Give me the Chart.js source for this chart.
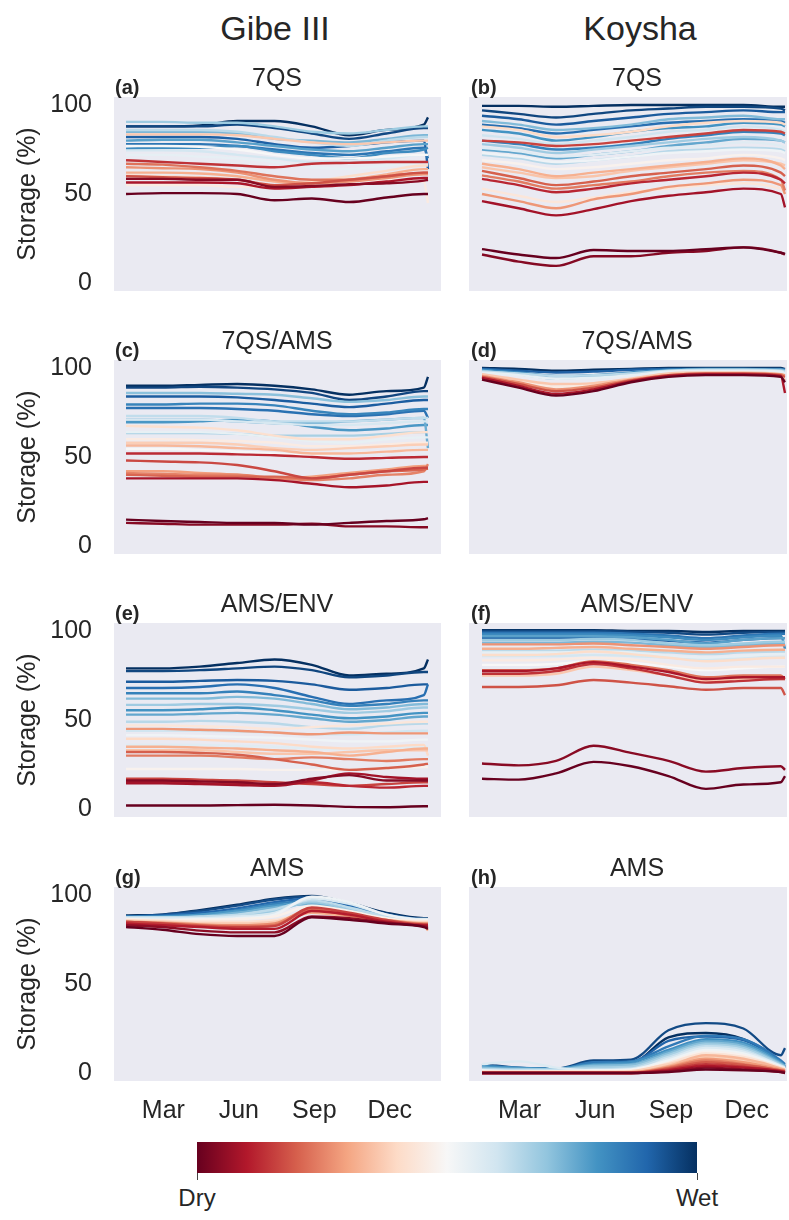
<!DOCTYPE html>
<html>
<head>
<meta charset="utf-8">
<script src="https://cdn.jsdelivr.net/npm/chart.js@4.4.1/dist/chart.umd.min.js"></script>
<style>
  body { margin: 0; background: #fff; font-family: "Liberation Sans", Arial, sans-serif; color: #262626; }
  #fig { position: relative; width: 789px; height: 1220px; overflow: hidden; }
  #fig canvas { position: absolute; }
  .txt { position: absolute; transform: translate(-50%, -50%); white-space: nowrap; line-height: 1; }
  .col { font-size: 34px; }
  .ttl { font-size: 25px; }
  .let { font-size: 20px; font-weight: bold; transform: translate(0, -50%); }
  #cbar { position: absolute; left: 197px; top: 1142px; width: 500px; height: 31px; }
  .tick { position: absolute; top: 1173px; width: 1px; height: 7px; background: #444; }
  .cbl { font-size: 24px; }
</style>
</head>
<body>
<div id="fig"></div>
<script>
// day of year for every stored value (the last two points catch the year-end jump)
const days = [1, 45, 90, 135, 180, 225, 270, 315, 360, 365];
const monthTicks = [46, 137, 228, 319];
const monthLabels = ['Mar', 'Jun', 'Sep', 'Dec'];
const storageTicks = [0, 50, 100];
const columnTitles = ['Gibe III', 'Koysha'];
const panelTitles = ['7QS', '7QS', '7QS/AMS', '7QS/AMS', 'AMS/ENV', 'AMS/ENV', 'AMS', 'AMS'];
const panelLetters = ['(a)', '(b)', '(c)', '(d)', '(e)', '(f)', '(g)', '(h)'];
const colorbarLabels = ['Dry', 'Wet'];

// storage (%) per year, each list goes from the driest year to the wettest
const gibe7qs = [
  [50, 50.5, 50.5, 50, 46.5, 47.5, 45.5, 48, 50, 50],
  [58.5, 58.5, 58, 58, 54, 54.5, 55.5, 56, 57.5, 58],
  [56.5, 56.5, 56.5, 56, 53, 54, 55, 57, 59, 59],
  [69, 68, 67, 66, 65, 67, 67.5, 68, 68, 68],
  [60, 59.5, 59, 58, 55, 56, 58, 60, 62, 62],
  [67, 66.5, 65, 63, 60, 58, 58, 60, 62, 62],
  [65, 64.5, 64, 62, 58, 56, 57, 59, 61, 61],
  [62, 62, 61.5, 60, 57, 56, 58, 61, 64, 64],
  [83.5, 83.5, 83.5, 83, 81, 79, 78, 79, 80, 80],
  [60.5, 60, 59.5, 58, 55, 57, 60, 63, 66, 66],
  [55, 55, 55, 54, 54, 56, 57, 58, 57, 45],
  [77, 77, 76.5, 75, 72, 70, 70, 71, 72, 72],
  [72, 72, 71, 70, 68, 65, 64, 66, 67, 67],
  [74.5, 74.5, 74, 72, 70, 68, 68, 70, 72, 72],
  [86, 86, 86, 85, 82, 79, 77, 80, 82, 82],
  [90.5, 90.5, 90, 90, 88, 85, 84, 86, 88, 88],
  [85, 85, 85, 84, 81, 80, 79, 81, 83, 83],
  [80, 80.5, 80.5, 79, 77, 75, 74, 76, 78, 78],
  [75.5, 76, 76, 77, 74, 72, 70, 73, 75, 76],
  [78, 78, 78, 77, 75, 73, 72, 74, 76, 70],
  [82, 82, 82, 81, 78, 76, 77, 79, 80, 64],
  [88, 88, 88, 89, 87, 84, 81, 84, 87, 87],
  [88, 88, 88.5, 91, 91, 88, 83, 86, 89, 93]
];
const koysha7qs = [
  [19, 16, 14, 18.5, 18, 18, 19, 20, 17, 16.5],
  [16, 12, 9.6, 15, 15, 17, 18, 20, 17, 16],
  [46, 42, 38, 41.5, 46, 49, 51, 53, 50, 42.5],
  [58.5, 55, 51, 53, 56, 58, 60, 62, 58, 56],
  [80, 79, 77, 78, 80, 82, 84, 86, 85, 84],
  [63, 59, 55, 57, 60, 62, 64, 66, 62, 60],
  [60.5, 57, 53, 55, 57, 60, 62, 63, 58, 52],
  [50, 46, 42, 47, 50, 54, 56, 58, 55, 50],
  [67, 64, 60, 62, 64, 66, 68, 70, 66, 64],
  [65, 62, 59, 60, 63, 65, 67, 69, 67, 66],
  [88, 86, 82, 83, 85, 88, 90, 91, 90, 89],
  [53, 49, 45.5, 48, 51, 53, 55, 56, 53, 52],
  [69, 67, 64, 65, 67, 69, 70, 72, 70, 69],
  [73, 71, 68, 69, 71, 73, 74, 75, 74, 73],
  [76, 74, 71, 72, 74, 76, 77, 79, 77, 76],
  [83, 81, 78, 80, 82, 85, 86, 88, 86, 85],
  [72, 70, 67, 69, 71, 74, 75, 76, 75, 74],
  [78, 76, 73, 75, 77, 79, 81, 82, 80, 79],
  [91, 89, 86, 87, 89, 92, 93, 94, 92, 92],
  [75, 73, 70, 72, 74, 77, 79, 81, 80, 79],
  [86, 84, 80, 82, 85, 87, 88, 90, 89, 88],
  [80, 78, 75, 76, 78, 81, 83, 85, 84, 83],
  [89, 87, 84, 86, 88, 90, 91, 92, 91, 90],
  [94, 92, 89, 91, 93, 95, 96, 97, 96, 96],
  [97, 95, 93, 95, 97, 98, 99, 99, 98, 97],
  [99.5, 99.5, 99, 99.5, 100, 100, 100, 100, 99, 99]
];
const gibe7qsAms = [
  [14.8, 14, 13.5, 13, 13, 12, 13, 14, 15, 15.7],
  [13, 12.5, 12, 12, 12, 12.5, 11, 11, 10.5, 10.5],
  [38, 38, 38, 38, 37, 35, 33, 34, 36, 36],
  [52, 52, 52, 51.5, 51, 50, 49, 49.5, 50, 50],
  [48, 47.5, 47, 45.5, 42, 38, 40, 42, 44, 44],
  [40, 39.5, 39, 39, 39, 38, 40, 42, 43, 43.5],
  [41, 40.5, 40, 40, 38, 37, 38, 40, 42, 46],
  [42, 42, 41, 40, 38, 39, 41, 43, 45, 45],
  [56.5, 56.5, 56, 55, 54, 52, 52, 53, 54, 54],
  [58, 58, 58, 57, 55, 54, 55, 56, 57, 57],
  [67.5, 67, 66.5, 65, 62, 60, 60, 62, 64, 64],
  [60, 60, 59.5, 59, 58, 56, 56, 57, 58, 58],
  [54.5, 54.5, 54, 53, 52, 51, 52, 53, 54, 54],
  [64, 64, 64, 63, 61, 59, 58, 60, 61, 61],
  [71, 71, 71, 70, 69, 68, 68, 69, 70, 70],
  [73, 73, 73, 72, 70, 70, 70, 71, 72, 72],
  [63.5, 63.5, 63.5, 63, 62, 62, 62, 63, 64, 64],
  [86, 86, 86, 85.5, 85, 83, 81, 82, 84, 84],
  [71, 71, 71, 70, 69, 69, 70, 71, 72, 55],
  [69.5, 69.5, 70, 71, 70, 67, 65, 66, 68, 68],
  [79.5, 79.5, 80, 80, 79, 76, 74, 75, 77, 77],
  [77.5, 77.5, 77.5, 77, 76, 74, 73, 74, 76, 72],
  [84, 84, 84, 83.5, 82, 80, 78, 80, 82, 82],
  [89, 89, 89.5, 89, 88, 86, 82, 84, 87, 87],
  [90, 90, 90.5, 91, 90, 88, 85, 87, 89, 95]
];
const koysha7qsAms = [
  [93.5, 89, 84.5, 87, 92, 95, 96, 96, 95, 92],
  [94.5, 90, 85.5, 88, 92.5, 95.5, 96.5, 96.5, 95.5, 86],
  [95, 91, 87, 89, 93, 96, 97, 97, 96, 95],
  [95.5, 92, 88, 90, 93.5, 96, 97, 97, 96.5, 96],
  [96.5, 93.5, 91, 91.5, 94, 97, 97.5, 97.5, 96.5, 93],
  [96, 93, 89.5, 91, 94, 96.5, 97, 97, 96.5, 96],
  [97.5, 96, 94, 94.5, 96, 98, 98.5, 98.5, 98, 97],
  [98, 97, 95.5, 96, 97, 98.5, 99, 99, 98.5, 98],
  [98.5, 96.5, 94, 95, 97, 98.5, 99, 99, 99, 98.5],
  [99, 97.5, 95.5, 96, 97.5, 99, 99.5, 99.5, 99, 99],
  [99.5, 98.5, 97.5, 98, 99, 99.5, 99.5, 99.5, 99.5, 99],
  [100, 99.5, 98.5, 99, 99.5, 100, 100, 100, 100, 99.5]
];
const gibeAmsEnv = [
  [2, 2, 2, 2.2, 2.4, 2, 1.2, 1, 1.5, 1.5],
  [16, 16, 15.5, 15, 14, 17, 19, 16, 16, 16],
  [14.5, 14.5, 14, 13.5, 13, 16, 20, 18, 17, 17],
  [15, 15, 14.5, 14, 14, 15, 13, 12, 13, 13],
  [17, 17, 16.5, 16, 15, 14, 13, 14, 15, 15],
  [32, 32, 31.5, 30.5, 28, 25, 22, 23, 25, 25.5],
  [30, 30, 30, 29, 28, 29, 28, 27, 28, 28],
  [45, 45, 44.5, 44, 43, 42, 43, 42.5, 42.5, 42.5],
  [35, 35, 34.5, 34, 33, 32, 30, 32, 34, 34],
  [33, 33, 33, 32, 31, 31, 32, 33, 33, 33],
  [39.5, 39.5, 39, 38, 37, 35, 34, 35, 36, 30],
  [47, 47, 46.5, 46, 45, 46, 47, 48, 49, 49],
  [22.5, 22.5, 22.5, 22.5, 22, 22, 22, 23, 23.5, 23.5],
  [41.5, 41.5, 41, 40.5, 40, 39, 38, 38, 39, 39],
  [36, 36, 36, 35.5, 35, 34, 33.5, 34, 35, 35],
  [44, 44, 44, 43.5, 43, 42, 42, 43, 44, 44],
  [49, 49, 49.5, 49, 48, 46, 45, 47, 48, 48],
  [58.5, 58.5, 59, 59, 58, 56, 54, 55, 57, 57],
  [62, 62, 62, 63, 62, 59, 56, 57, 59, 59],
  [53, 53, 53.5, 54, 53, 51, 49, 50, 52, 52],
  [55.5, 55.5, 56, 57, 55.5, 53, 51, 52, 54, 54],
  [65, 65, 65, 66, 64, 61, 58, 59, 61, 61],
  [68, 68, 68.5, 70, 68, 63, 59, 61, 64, 70],
  [71.5, 71.5, 72, 72.5, 72, 70, 67, 68, 70, 70],
  [77.5, 77.5, 78, 79, 80, 78, 74, 75, 77, 77],
  [79, 79, 80, 82, 84, 81, 75, 76, 79, 84]
];
const koyshaAmsEnv = [
  [17, 16.5, 20, 26.5, 24, 18.5, 11.3, 13.8, 15, 18.5],
  [25.6, 24.5, 27, 35.5, 31.5, 27, 21, 23, 24, 22],
  [77.5, 77.5, 79, 82.5, 80, 77, 73, 74, 74, 74],
  [76, 76, 77.5, 81.5, 79, 75, 71, 72, 73, 73],
  [68.5, 68.5, 69.5, 72.5, 71, 69, 67, 68, 68, 64],
  [78, 78, 79, 83, 81, 78, 74, 75, 75, 73],
  [92.5, 92.5, 92.5, 93, 92, 91, 90, 91, 92, 92],
  [90, 90, 90.5, 91, 90, 89, 88, 89, 89.5, 89.5],
  [75, 75, 76, 80, 78, 75, 72, 73, 73, 73],
  [86.5, 86.5, 87, 88.5, 87, 85, 83, 84, 85, 85],
  [83.5, 83.5, 84, 85, 84, 81, 79, 80, 80, 80],
  [81, 81, 81.5, 83, 82, 80, 78, 79, 80, 80],
  [88, 88, 88, 88.5, 88, 86, 85, 86, 87, 87],
  [86, 86, 86, 86.5, 86, 85, 84, 85, 85.5, 85.5],
  [89, 89, 89, 89.5, 89, 88, 87, 88, 88.5, 88.5],
  [95, 95, 95, 95.5, 95, 93, 92, 93, 94, 94],
  [93.5, 93.5, 93.5, 94, 93.5, 92, 91, 92, 93, 93],
  [97, 97, 97, 97, 96.5, 95, 93, 95, 96, 96],
  [98, 98, 98, 98, 97.5, 96.5, 95, 96.5, 97.5, 90],
  [99, 99, 99, 99, 98.5, 97.5, 96, 97.5, 98.5, 98.5],
  [96, 96, 96, 96, 95.5, 94.5, 93.5, 95, 96, 96],
  [100, 100, 100, 100, 99.5, 99, 98, 99, 99.5, 99.5],
  [100.5, 100.5, 100.5, 100.5, 100, 100, 99.5, 100, 100, 100]
];
const gibeAms = [
  [82, 80.5, 78, 77, 77, 87.5, 86, 84, 82, 81],
  [83, 82, 80, 79, 79, 88, 87, 84.5, 82.5, 82],
  [84, 83, 82, 81, 81, 91, 89, 85, 83, 83],
  [85, 84, 82.5, 82, 82.5, 93, 90, 86, 83.5, 83.5],
  [84.5, 84, 83, 82, 83, 92, 88.5, 85.5, 83, 83],
  [85, 84.5, 83.5, 83, 84, 92.5, 89, 86, 84, 84],
  [84, 83.5, 82.5, 82, 83.5, 90, 88, 85, 83, 80],
  [85.5, 85, 84, 84, 85, 91, 89, 86, 84.5, 84.5],
  [86, 85.5, 85, 85, 86, 90, 88.5, 86, 85, 85],
  [86.5, 86, 86, 86.5, 88, 94, 91, 87, 85.5, 85.5],
  [86, 86, 86.5, 87, 89, 99, 96, 89, 86, 86],
  [87, 87, 87, 88, 90, 98, 95, 89, 86.5, 86.5],
  [87.5, 87.5, 88, 89, 92, 97, 93, 88, 86, 86],
  [86.5, 86.5, 87, 88, 91, 96, 92, 88, 85.5, 85.5],
  [87, 87, 88, 90, 93, 95, 91, 87.5, 85.5, 85.5],
  [87.5, 88, 89, 91, 94, 96, 92, 88, 86, 86],
  [88, 88, 89, 91.5, 95, 97, 93, 88.5, 86, 86],
  [88, 88.5, 90, 92.5, 96, 98, 94, 89, 86.5, 86.5],
  [88, 89, 91, 94, 97.5, 99, 95, 89.5, 86.5, 86.5],
  [88.5, 89, 91.5, 94.5, 98, 99.5, 95.5, 90, 87, 87]
];
const koyshaAms = [
  [0, 0, 0, 0, 0, 0.5, 2, 1.5, 0.5, 0],
  [0, 0, 0, 0, 0, 1, 3, 2, 0.5, 0],
  [0, 0, 0, 0, 0, 1.5, 4, 3, 1, 0.5],
  [0, 0, 0, 0, 0, 2, 5, 3.5, 1, 0.5],
  [0, 0, 0, 0, 0, 2.5, 6, 4.5, 1.5, 1],
  [0, 0, 0, 0, 0, 3, 7, 5, 1.5, 1],
  [0.5, 0.5, 0.5, 0.5, 0.5, 3.5, 8, 6, 2, 1.5],
  [0.5, 0.5, 0.5, 0.5, 0.5, 4, 10, 8, 2.5, 1.5],
  [0.5, 0.5, 0.5, 0.5, 1, 5, 9, 7, 2.5, 2],
  [1, 1, 1, 1, 1, 5.5, 11, 9, 3, 2],
  [1, 1, 1, 1, 1.5, 6, 12, 10, 3, 2.5],
  [1.5, 1, 1, 1.5, 2, 7, 13, 11, 3.5, 2.5],
  [5, 6.5, 3, 1.5, 1.5, 8, 14, 12, 4, 3],
  [2, 1.5, 1.5, 2, 2.5, 9, 15, 13, 4, 3],
  [2, 2, 2, 3, 3.5, 10, 16, 14, 4.5, 3],
  [3, 2, 2, 4, 4.5, 11, 17, 15, 5, 3.5],
  [3, 2.5, 2, 4.5, 5, 12, 18, 16, 5.5, 4],
  [4, 3, 2.5, 5, 6, 13, 19, 17, 6, 4],
  [3.5, 2.5, 2, 6, 6.5, 15, 21, 19, 7, 5],
  [4, 2.5, 2, 5.5, 6, 18, 20.5, 18.5, 6, 3.5],
  [5, 3, 2.5, 7, 7.5, 24, 28, 25, 10, 14],
  [4.5, 2.5, 2, 5, 5.5, 20, 22.5, 19, 6, 3]
];

const panels = [gibe7qs, koysha7qs, gibe7qsAms, koysha7qsAms, gibeAmsEnv, koyshaAmsEnv, gibeAms, koyshaAms];

// RdBu colour map
const RDBU = ['#67001f', '#b2182b', '#d6604d', '#f4a582', '#fddbc7', '#f7f7f7',
              '#d1e5f0', '#92c5de', '#4393c3', '#2166ac', '#053061'];
function hex(c) { return [1, 3, 5].map(i => parseInt(c.substr(i, 2), 16)); }
function rdbu(t) {
  const p = Math.min(Math.max(t, 0), 1) * (RDBU.length - 1);
  const i = Math.min(Math.floor(p), RDBU.length - 2);
  const f = p - i;
  const a = hex(RDBU[i]), b = hex(RDBU[i + 1]);
  const c = a.map((v, k) => Math.round(v + (b[k] - v) * f));
  return 'rgb(' + c.join(',') + ')';
}

const FONT = '"Liberation Sans", Arial, sans-serif';
const INK = '#262626';
Chart.defaults.font.family = FONT;
Chart.defaults.color = INK;

const fig = document.getElementById('fig');
const rowTop = [97, 360, 623, 887];
const plotH = 194;
const M = 40; // canvas margin around each plot
const colLeft = [0, 469];
const colWidth = [441, 318];
const xRange = [[-13.5, 380.7], [-14.6, 367.4]];
const titleX = [277, 637];
const letterX = [115, 471];

function addText(cls, text, x, y) {
  const d = document.createElement('div');
  d.className = 'txt ' + cls;
  d.textContent = text;
  d.style.left = x + 'px';
  d.style.top = y + 'px';
  fig.appendChild(d);
}

const plotBg = {
  id: 'plotBg',
  beforeDraw(chart) {
    const a = chart.chartArea, c = chart.ctx;
    c.save();
    c.fillStyle = '#eaeaf2';
    c.fillRect(a.left, a.top, a.right - a.left, a.bottom - a.top);
    c.restore();
  }
};

addText('col', columnTitles[0], 275, 28);
addText('col', columnTitles[1], 640, 28);

panels.forEach((series, k) => {
  const row = Math.floor(k / 2), col = k % 2;
  const last = row === 3;
  const canvas = document.createElement('canvas');
  canvas.width = colWidth[col];
  canvas.height = M + plotH + (last ? 45 : M);
  canvas.style.left = colLeft[col] + 'px';
  canvas.style.top = (rowTop[row] - M) + 'px';
  fig.appendChild(canvas);

  const n = series.length;
  const datasets = series.map((vals, i) => ({
    data: vals.map((v, j) => ({ x: days[j], y: v })),
    borderColor: rdbu(i / (n - 1)),
    borderWidth: 2.4,
    pointRadius: 0,
    cubicInterpolationMode: 'monotone',
    fill: false
  }));

  new Chart(canvas, {
    type: 'line',
    data: { datasets },
    plugins: [plotBg],
    options: {
      responsive: false,
      animation: false,
      events: [],
      layout: { autoPadding: false, padding: { top: M, bottom: last ? 0 : M, left: 0, right: 0 } },
      plugins: { legend: { display: false }, tooltip: { enabled: false } },
      scales: {
        x: {
          type: 'linear',
          min: xRange[col][0],
          max: xRange[col][1],
          display: last,
          grid: { display: false, drawTicks: false },
          border: { display: false },
          afterBuildTicks: s => { s.ticks = monthTicks.map(v => ({ value: v })); },
          afterFit: s => { if (last) s.height = 45; },
          ticks: {
            autoSkip: false, maxRotation: 0, padding: 15,
            font: { size: 25 }, color: INK,
            callback: (v, i) => monthLabels[i]
          }
        },
        y: {
          type: 'linear',
          min: -4.5,
          max: 104.5,
          display: col === 0,
          grid: { display: false, drawTicks: false },
          border: { display: false },
          afterBuildTicks: s => { s.ticks = storageTicks.map(v => ({ value: v })); },
          afterFit: s => { if (col === 0) s.width = 114; },
          ticks: { padding: 22, font: { size: 25 }, color: INK },
          title: { display: true, text: 'Storage (%)', font: { size: 25 }, color: INK, padding: { top: 13, bottom: 0 } }
        }
      }
    }
  });
});

// panel titles and letters sit above the canvases
panels.forEach((s, k) => {
  const row = Math.floor(k / 2), col = k % 2;
  addText('ttl', panelTitles[k], titleX[col], rowTop[row] - 20);
  addText('let', panelLetters[k], letterX[col], rowTop[row] - 10);
});

// colour bar
const bar = document.createElement('div');
bar.id = 'cbar';
bar.style.background = 'linear-gradient(to right, ' + RDBU.join(', ') + ')';
fig.appendChild(bar);
[197, 697].forEach((x, i) => {
  const t = document.createElement('div');
  t.className = 'tick';
  t.style.left = (x - 0.5) + 'px';
  fig.appendChild(t);
  addText('cbl', colorbarLabels[i], x, 1198);
});
</script>
</body>
</html>
